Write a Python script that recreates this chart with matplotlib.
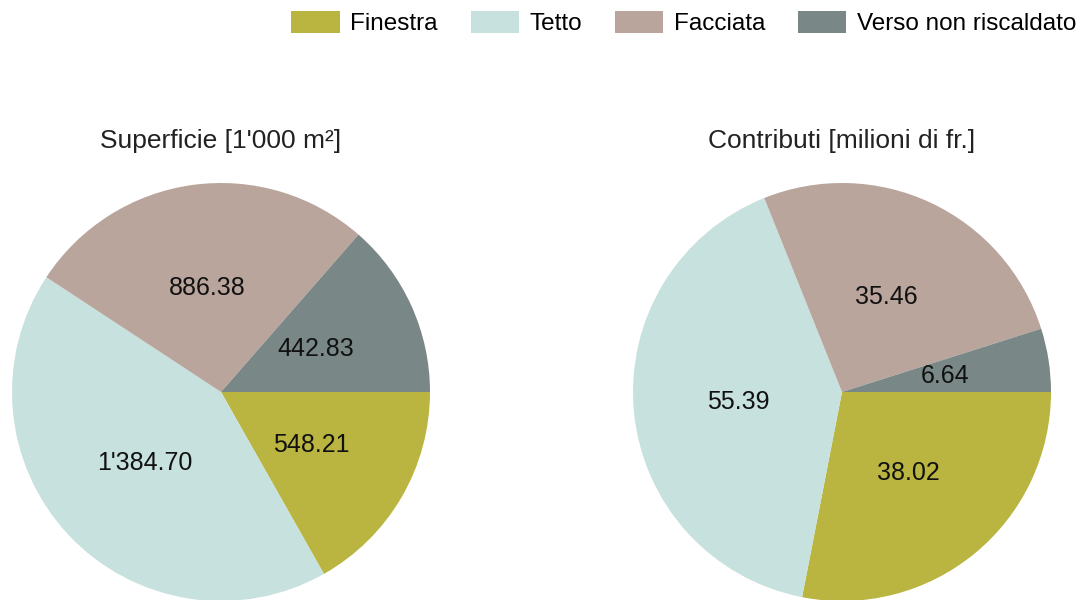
import matplotlib
matplotlib.use("Agg")
import matplotlib.pyplot as plt
from matplotlib.patches import Patch

plt.rcParams['font.family'] = ['Liberation Sans', 'DejaVu Sans']

categories = ['Finestra', 'Tetto', 'Facciata', 'Verso non riscaldato']
colors = ['#b9b540', '#c7e1de', '#baa59d', '#798886']
superficie = [548.21, 1384.70, 886.38, 442.83]
contributi = [38.02, 55.39, 35.46, 6.64]
titles = ["Superficie [1'000 m²]", "Contributi [milioni di fr.]"]

W, H = 1081, 600
fig = plt.figure(figsize=(W / 100, H / 100), dpi=100)


def fmt_value(total):
    def inner(pct):
        v = pct * total / 100.0
        return f"{v:,.2f}".replace(",", "'")
    return inner


def draw_pie(cx, cy, r, values, title):
    ax = fig.add_axes([(cx - r) / W, (H - cy - r) / H, 2 * r / W, 2 * r / H])
    ax.pie(values, colors=colors, startangle=0, counterclock=False,
           autopct=fmt_value(sum(values)), pctdistance=0.5,
           textprops={'fontsize': 18, 'color': '#111111'})
    ax.set_xlim(-1, 1)
    ax.set_ylim(-1, 1)
    ax.set_aspect('equal')
    ax.axis('off')
    fig.text(cx / W, 1 - 141 / H, title, ha='center', va='center',
             fontsize=19, color='#222222')


draw_pie(221, 392, 209, superficie, titles[0])
draw_pie(842, 392, 209, contributi, titles[1])

handles = [Patch(facecolor=c, edgecolor='none') for c in colors]
fig.legend(handles, categories, loc='center right',
           bbox_to_anchor=(1076 / W, 1 - 23 / H),
           ncol=4, frameon=False, fontsize=17.5, handlelength=2.0,
           handleheight=1.0, handletextpad=0.42, columnspacing=1.35,
           borderaxespad=0, borderpad=0)

fig.savefig('out.png', dpi=100)
